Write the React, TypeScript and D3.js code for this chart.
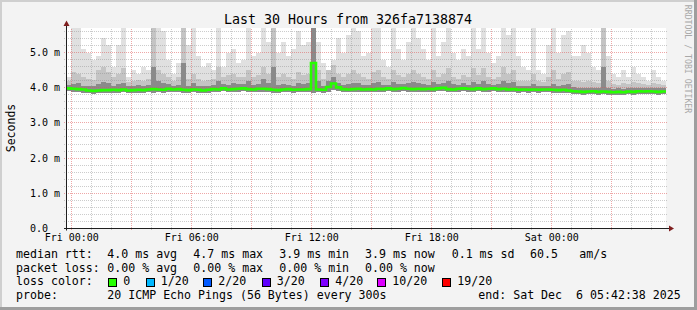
import React, { useEffect } from 'react';
import * as d3 from 'd3';

// ---------- data ----------
const END_MS = Date.UTC(2025, 11, 6, 5, 42, 38);
const SPAN_HOURS = 30;
const STEP_MIN = 15;

// median rtt (ms) per 15-minute bin
const medianRtt = [
  3.98, 3.97, 3.96, 3.95, 3.92, 3.91, 3.92, 3.93, 3.93, 3.94, 3.93, 3.95,
  3.92, 3.93, 3.94, 3.93, 3.95, 3.96, 3.95, 3.94, 3.97, 3.95, 3.96, 3.94,
  3.93, 3.95, 3.94, 3.92, 3.94, 3.96, 3.95, 3.98, 3.95, 3.96, 3.97, 3.98,
  3.96, 3.95, 3.97, 3.97, 3.96, 3.94, 3.93, 3.95, 3.96, 3.94, 3.95, 3.95,
  3.96, 4.70, 3.95, 3.94, 4.02, 4.12, 4.01, 3.96, 3.95, 3.96, 3.97, 3.95,
  3.96, 3.95, 3.97, 3.96, 3.98, 3.96, 3.97, 3.99, 3.97, 3.96, 3.97, 3.96,
  3.97, 3.96, 3.98, 4.00, 3.96, 3.95, 3.97, 3.98, 3.97, 3.96, 3.98, 3.96,
  3.97, 3.98, 3.96, 3.97, 3.95, 3.96, 3.94, 3.95, 3.94, 3.95, 3.94, 3.95,
  3.95, 3.94, 3.93, 3.94, 3.92, 3.90, 3.89, 3.88, 3.89, 3.90, 3.88, 3.89,
  3.88, 3.87, 3.88, 3.87, 3.89, 3.88, 3.90, 3.89, 3.90, 3.89, 3.88, 3.89,
];

// lowest ping (ms)
const minRtt = [
  3.90, 3.88, 3.87, 3.86, 3.84, 3.83, 3.85, 3.86, 3.85, 3.86, 3.85, 3.87,
  3.85, 3.86, 3.86, 3.85, 3.87, 3.86, 3.87, 3.86, 3.88, 3.87, 3.88, 3.86,
  3.86, 3.87, 3.86, 3.84, 3.86, 3.88, 3.87, 3.90, 3.87, 3.88, 3.89, 3.90,
  3.88, 3.87, 3.89, 3.89, 3.88, 3.86, 3.85, 3.87, 3.88, 3.86, 3.87, 3.87,
  3.88, 3.86, 3.87, 3.86, 3.88, 3.93, 3.90, 3.88, 3.87, 3.88, 3.89, 3.87,
  3.88, 3.87, 3.89, 3.88, 3.90, 3.88, 3.89, 3.91, 3.89, 3.88, 3.89, 3.88,
  3.89, 3.88, 3.90, 3.91, 3.88, 3.87, 3.89, 3.90, 3.89, 3.88, 3.90, 3.88,
  3.89, 3.90, 3.88, 3.89, 3.87, 3.88, 3.86, 3.87, 3.86, 3.87, 3.86, 3.87,
  3.87, 3.86, 3.85, 3.86, 3.84, 3.82, 3.81, 3.80, 3.81, 3.82, 3.80, 3.81,
  3.80, 3.79, 3.80, 3.79, 3.81, 3.80, 3.82, 3.81, 3.82, 3.81, 3.80, 3.81,
];

// top of the dense (dark) smoke (ms)
const denseTop = [
  4.08, 4.10, 4.12, 4.06, 4.05, 4.04, 4.10, 4.15, 4.12, 4.06, 4.10, 4.14,
  4.04, 4.06, 4.07, 4.05, 4.08, 4.60, 4.20, 4.12, 4.10, 4.06, 4.08, 4.70,
  4.06, 4.12, 4.06, 4.04, 4.06, 4.08, 4.20, 4.10, 4.08, 4.12, 4.10, 4.10,
  4.20, 4.08, 4.10, 4.25, 4.12, 4.60, 4.08, 4.10, 4.08, 4.06, 4.14, 4.10,
  4.12, 5.70, 4.20, 4.06, 4.18, 4.30, 4.12, 4.08, 4.10, 4.14, 4.12, 4.08,
  4.08, 4.14, 4.15, 4.08, 4.08, 4.15, 4.10, 4.10, 4.12, 4.15, 4.12, 4.10,
  4.08, 4.16, 4.10, 4.14, 4.18, 4.10, 4.08, 4.12, 4.08, 4.16, 4.10, 4.18,
  4.10, 4.08, 4.10, 4.20, 4.14, 4.15, 4.06, 4.05, 4.04, 4.10, 4.04, 4.04,
  4.06, 4.10, 4.04, 4.08, 4.10, 4.02, 4.00, 3.98, 4.00, 3.99, 3.98, 4.60,
  4.00, 3.97, 3.98, 3.97, 3.99, 3.98, 4.00, 3.99, 4.00, 3.99, 3.98, 3.98,
];

// top of the medium smoke (ms)
const midTop = [
  4.20, 4.45, 4.40, 4.30, 4.25, 4.22, 4.50, 4.60, 4.45, 4.30, 4.40, 4.55,
  4.15, 4.20, 4.22, 4.18, 4.25, 5.70, 4.50, 4.40, 4.30, 4.20, 4.30, 5.70,
  4.25, 4.40, 4.25, 4.20, 4.22, 4.25, 4.60, 4.30, 4.35, 4.40, 4.30, 4.30,
  4.50, 4.30, 4.35, 4.60, 4.40, 5.70, 4.30, 4.40, 4.30, 4.25, 4.45, 4.35,
  4.40, 5.70, 4.50, 4.25, 4.50, 4.65, 4.40, 4.30, 4.40, 4.50, 4.40, 4.30,
  4.25, 4.45, 4.50, 4.30, 4.25, 4.50, 4.35, 4.30, 4.40, 4.50, 4.40, 4.30,
  4.25, 4.50, 4.30, 4.40, 4.55, 4.30, 4.25, 4.35, 4.30, 4.55, 4.35, 4.55,
  4.30, 4.25, 4.30, 4.60, 4.40, 4.50, 4.20, 4.20, 4.18, 4.40, 4.18, 4.15,
  4.30, 4.50, 4.25, 4.40, 4.45, 4.20, 4.20, 4.15, 4.20, 4.15, 4.12, 5.70,
  4.20, 4.10, 4.08, 4.12, 4.10, 4.15, 4.12, 4.10, 4.08, 4.12, 4.10, 4.08,
];

// highest ping (ms)
const maxRtt = [
  4.3, 5.7, 5.7, 5.1, 5.0, 4.8, 4.9, 5.4, 5.2, 4.6, 5.2, 5.7,
  4.3, 4.5, 4.4, 4.6, 4.5, 5.7, 5.7, 5.6, 4.8, 4.4, 4.7, 5.7,
  5.2, 5.7, 4.9, 4.6, 4.7, 4.5, 5.7, 4.6, 5.0, 5.1, 4.7, 4.8,
  5.7, 4.9, 5.0, 5.7, 5.3, 5.7, 5.0, 5.3, 4.9, 5.1, 5.6, 5.2,
  5.3, 5.7, 5.3, 4.7, 4.5, 4.8, 5.4, 5.0, 5.5, 5.7, 5.6, 4.9,
  5.0, 5.7, 5.7, 4.8, 4.6, 5.7, 5.1, 4.8, 5.3, 5.7, 5.4, 5.1,
  4.8, 5.7, 4.9, 5.3, 5.7, 5.0, 4.8, 5.1, 4.9, 5.7, 5.1, 5.7,
  5.0, 4.7, 4.9, 5.7, 5.5, 5.7, 4.9, 4.6, 4.5, 5.7, 4.5, 4.4,
  5.2, 5.7, 5.0, 5.5, 5.6, 4.9, 4.9, 5.2, 5.0, 4.6, 4.5, 5.7,
  4.9, 4.4, 4.3, 4.5, 4.3, 4.6, 4.4, 4.3, 4.2, 4.5, 4.3, 4.2,
];

const yTickValues = [0, 1, 2, 3, 4, 5];
const yTickLabels = ['0.0', '1.0 m', '2.0 m', '3.0 m', '4.0 m', '5.0 m'];

const titleText = 'Last 30 Hours from 326fa7138874';
const yAxisTitle = 'Seconds';
const watermark = 'RRDTOOL / TOBI OETIKER';

const rttLine = ['median rtt:', '4.0 ms avg', '4.7 ms max', '3.9 ms min', '3.9 ms now', '0.1 ms sd', '60.5', 'am/s'];
const lossLine = ['packet loss:', '0.00 % avg', '0.00 % max', '0.00 % min', '0.00 % now'];
const lossColorTitle = 'loss color:';
const lossLabels = ['0', '1/20', '2/20', '3/20', '4/20', '10/20', '19/20'];
const lossColors = ['#26ff00', '#00b8ff', '#0059ff', '#5e00ff', '#7e00ff', '#dd00ff', '#ff0000'];
const probeLine = ['probe:', '20 ICMP Echo Pings (56 Bytes) every 300s'];
const endText = 'end: Sat Dec  6 05:42:38 2025';

// ---------- layout ----------
const W = 697;
const H = 310;
const PLOT = { left: 66, right: 666, top: 28.5, bottom: 228.5 };
const PX_PER_MS = 35.2;
const FONT = '"DejaVu Sans Mono", monospace';
const rttX = [16, 107.3, 193.3, 279.3, 365, 451.7, 530, 579.3];
const lossX = [16, 107.3, 193.3, 279.3, 365];
const boxX = [108.5, 146, 203.5, 262, 320.5, 377.5, 442.5];
const lineY = [258, 271.5, 285, 298.5];

export default function App() {
  useEffect(() => {
    document.body.style.margin = '0';
  }, []);

  const start = new Date(END_MS - SPAN_HOURS * 3600000);
  const end = new Date(END_MS);
  const x = d3.scaleUtc().domain([start, end]).range([PLOT.left, PLOT.right]);
  const y = d3
    .scaleLinear()
    .domain([0, (PLOT.bottom - PLOT.top) / PX_PER_MS])
    .range([PLOT.bottom, PLOT.top]);

  const n = medianRtt.length;
  const idx = d3.range(n + 1);
  const tAt = (i: number) => new Date(start.getTime() + i * STEP_MIN * 60000);
  const v = (arr: number[], i: number) => arr[Math.min(i, n - 1)];

  const band = (lo: number[], hi: number[]) =>
    d3
      .area<number>()
      .x((i) => x(tAt(i)))
      .y0((i) => y(v(lo, i)))
      .y1((i) => y(v(hi, i)))
      .curve(d3.curveStepAfter)(idx) || '';

  const medLine =
    d3
      .line<number>()
      .x((i) => x(tAt(i)))
      .y((i) => y(v(medianRtt, i)))
      .curve(d3.curveStepAfter)(idx) || '';

  const hours = d3.utcHour.every(1)!.range(start, end);
  const yGrid = d3.range(1, 29).map((k) => Math.round(k * 0.2 * 10) / 10);
  const crisp = (p: number) => Math.floor(p) + 0.5;
  const fmt = d3.utcFormat('%a %H:%M');

  return (
    <svg
      width={W}
      height={H}
      viewBox={`0 0 ${W} ${H}`}
      style={{ position: 'absolute', left: 0, top: 0, display: 'block' }}
      fontFamily={FONT}
    >
      <defs>
        <clipPath id="plotclip">
          <rect x={PLOT.left} y={PLOT.top - 0.5} width={PLOT.right - PLOT.left} height={PLOT.bottom - PLOT.top + 0.5} />
        </clipPath>
      </defs>
      {/* background + frame */}
      <rect x={0} y={0} width={W} height={H} fill="#f3f3f3" />
      <path d={`M0,0 H${W} V2 H2 V${H} H0 Z`} fill="#cfcfcf" />
      <path d={`M${W},${H} H0 V${H - 3} H${W - 3} V0 H${W} Z`} fill="#9e9e9e" />
      <rect x={PLOT.left} y={PLOT.top - 0.5} width={PLOT.right - PLOT.left} height={PLOT.bottom - PLOT.top} fill="#ffffff" />

      {/* smoke */}
      <g clipPath="url(#plotclip)" shapeRendering="crispEdges">
        <path d={band(minRtt, maxRtt)} fill="#e0e0e0" />
        <path d={band(minRtt, midTop)} fill="#c4c4c4" />
        <path d={band(minRtt, denseTop)} fill="#8a8a8a" />
      </g>

      {/* minor grid */}
      <g stroke="rgba(143,143,143,0.45)" strokeWidth={1} strokeDasharray="1,1" fill="none" shapeRendering="crispEdges">
        {hours
          .filter((h) => h.getUTCHours() % 3 !== 0)
          .map((h, i) => (
            <line key={`vx${i}`} x1={crisp(x(h))} x2={crisp(x(h))} y1={PLOT.top} y2={PLOT.bottom + 2} />
          ))}
        {yGrid
          .filter((g) => Math.abs(g - Math.round(g)) > 1e-6)
          .map((g, i) => (
            <line key={`hy${i}`} x1={PLOT.left - 2} x2={PLOT.right + 2} y1={crisp(y(g))} y2={crisp(y(g))} />
          ))}
      </g>
      {/* major grid */}
      <g stroke="rgba(222,80,80,0.5)" strokeWidth={1} strokeDasharray="1,1" fill="none" shapeRendering="crispEdges">
        {hours
          .filter((h) => h.getUTCHours() % 3 === 0)
          .map((h, i) => (
            <line key={`mx${i}`} x1={crisp(x(h))} x2={crisp(x(h))} y1={PLOT.top} y2={PLOT.bottom + 2} />
          ))}
        {yTickValues
          .filter((g) => g > 0)
          .map((g, i) => (
            <line key={`my${i}`} x1={PLOT.left - 2} x2={PLOT.right + 2} y1={crisp(y(g))} y2={crisp(y(g))} />
          ))}
      </g>

      {/* median line */}
      <g clipPath="url(#plotclip)">
        <path d={medLine} fill="none" stroke="#202020" strokeWidth={1} />
        <path d={medLine} fill="none" stroke={lossColors[0]} strokeWidth={2.6} />
      </g>

      {/* axes */}
      <line x1={PLOT.left + 0.5} x2={PLOT.left + 0.5} y1={PLOT.bottom + 2} y2={24} stroke="#1f1f1f" strokeWidth={1} />
      <line x1={PLOT.left - 2} x2={669} y1={PLOT.bottom} y2={PLOT.bottom} stroke="#1f1f1f" strokeWidth={1} />
      <path d={`M63.5,26 L69.5,26 L66.5,20.5 Z`} fill="#7f1f1f" />
      <path d={`M669,225.5 L669,231.5 L674,228.5 Z`} fill="#7f1f1f" />

      {/* y tick labels */}
      <g fontSize={10} fill="#000">
        {yTickValues.map((t, i) => (
          <text key={`yl${i}`} x={30} y={crisp(y(t)) + 3.5}>
            {yTickLabels[i]}
          </text>
        ))}
      </g>
      {/* x tick labels */}
      <g fontSize={10} fill="#000" textAnchor="middle">
        {hours
          .filter((h) => h.getUTCHours() % 6 === 0)
          .map((h, i) => (
            <text key={`xl${i}`} x={x(h)} y={241}>
              {fmt(h)}
            </text>
          ))}
      </g>

      {/* title */}
      <text x={348} y={24} fontSize={13.3} textAnchor="middle" fill="#000">
        {titleText}
      </text>
      <text
        x={0}
        y={0}
        fontSize={11.5}
        textAnchor="middle"
        transform="translate(14.5,128) rotate(-90)"
        fill="#000"
      >
        {yAxisTitle}
      </text>
      <text
        x={0}
        y={0}
        fontSize={8.2}
        textAnchor="middle"
        dominantBaseline="central"
        transform="translate(688,59) rotate(90)"
        fill="#a8a8a8"
      >
        {watermark}
      </text>

      {/* legend */}
      <g fontSize={11.6} fill="#000" style={{ whiteSpace: 'pre' }}>
        {rttLine.map((s, i) => (
          <text key={`r${i}`} x={rttX[i]} y={lineY[0]}>
            {s}
          </text>
        ))}
        {lossLine.map((s, i) => (
          <text key={`l${i}`} x={lossX[i]} y={lineY[1]}>
            {s}
          </text>
        ))}
        <text x={16} y={lineY[2]}>
          {lossColorTitle}
        </text>
        {lossLabels.map((s, i) => (
          <g key={`c${i}`}>
            <rect x={boxX[i]} y={lineY[2] - 7} width={8} height={8} fill={lossColors[i]} stroke="#000" strokeWidth={1} shapeRendering="crispEdges" />
            <text x={boxX[i] + 14.8} y={lineY[2]}>
              {s}
            </text>
          </g>
        ))}
        <text x={16} y={lineY[3]}>
          {probeLine[0]}
        </text>
        <text x={107.3} y={lineY[3]}>
          {probeLine[1]}
        </text>
        <text x={478.3} y={lineY[3]} xmlSpace="preserve">
          {endText}
        </text>
      </g>
    </svg>
  );
}
